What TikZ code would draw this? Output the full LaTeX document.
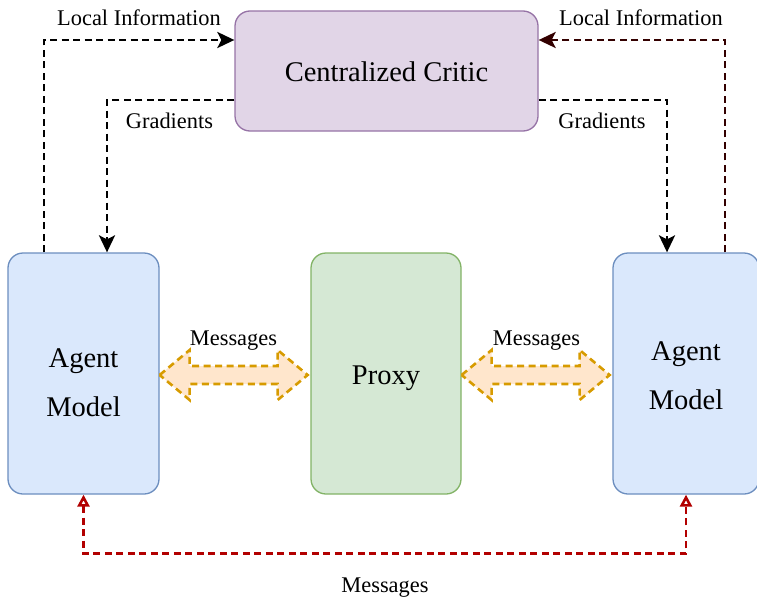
\documentclass[tikz,border=0pt]{standalone}
\usepackage{fontspec}
\setmainfont{Liberation Serif}
\usepackage{tikz}
\usetikzlibrary{calc, arrows.meta, positioning}

\definecolor{criticfill}{HTML}{E1D5E7}
\definecolor{criticline}{HTML}{9673A6}
\definecolor{agentfill}{HTML}{DAE8FC}
\definecolor{agentline}{HTML}{6C8EBF}
\definecolor{proxyfill}{HTML}{D5E8D4}
\definecolor{proxyline}{HTML}{82B366}
\definecolor{msgfill}{HTML}{FFE6CC}
\definecolor{msgline}{HTML}{D79B00}
\definecolor{msgred}{HTML}{B20000}
\definecolor{darkmaroon}{HTML}{330000}

\tikzset{
    box/.style = {draw, line width=1.3pt, rounded corners=15pt, inner sep=0pt},
    boxtext/.style = {inner sep=0pt, align=center, font=\fontsize{28.5}{49}\selectfont},
    lbl/.style = {inner sep=0pt, font=\fontsize{22.4}{26}\selectfont},
    dashline/.style = {line width=2.6pt, dash pattern=on 7pt off 4.5pt},
    flow/.style = {dashline, -{Stealth[length=17pt, width=16pt, inset=4pt]}},
    fatarrow/.style = {dashline, draw=msgline, fill=msgfill, line join=miter},
}

\begin{document}
\begin{tikzpicture}[x=1pt, y=-1pt]
        \useasboundingbox (0,0) rectangle (757,597);

        % boxes
        \node[box, draw=criticline, fill=criticfill, minimum width=303pt, minimum height=120pt,
            label={[boxtext, yshift=-1pt]center:Centralized Critic}]
            (critic) at (386.5,71) {};
        \node[box, draw=agentline, fill=agentfill, minimum width=151pt, minimum height=241pt,
            label={[boxtext, yshift=-9pt]center:Agent\\Model}]
            (agentL) at (83.5,373.5) {};
        \node[box, draw=proxyline, fill=proxyfill, minimum width=150pt, minimum height=241pt,
            label={[boxtext, yshift=-5pt]center:Proxy}]
            (proxy) at (386,373.5) {};
        \node[box, draw=agentline, fill=agentfill, minimum width=146pt, minimum height=241pt,
            label={[boxtext, yshift=-2pt]center:Agent\\Model}]
            (agentR) at (686,373.5) {};

        % messages through the proxy
        \coordinate (tipL) at ([yshift=-1.5pt]agentL.east);
        \coordinate (tipR) at ([yshift=-1.5pt]proxy.east);
        \foreach \t in {tipL, tipR}
            \draw[fatarrow] (\t) -- ++(30,-25) -- ++(0,16) -- ++(88,0) -- ++(0,-16)
                -- ++(30,25) -- ++(-30,25) -- ++(0,-16) -- ++(-88,0) -- ++(0,16) -- cycle;
        \node[lbl] (msgLtxt) at (233.5,341) {Messages};
        \node[lbl] (msgRtxt) at (536.5,341) {Messages};

        % critic links
        \draw[flow] ([xshift=-39.5pt]agentL.north) |- ([yshift=31pt]critic.west);
        \draw[flow] ([yshift=-29pt]critic.west) -| ([xshift=23.5pt]agentL.north);
        \draw[flow] ([yshift=-29pt]critic.east) -| ([xshift=-19pt]agentR.north);
        \draw[flow, darkmaroon] ([xshift=39pt]agentR.north) |- ([yshift=31pt]critic.east);
        \node[lbl] (infoL) at (139,18) {Local Information};
        \node[lbl] (infoR) at (641,18) {Local Information};
        \node[lbl] (gradL) at (169.5,121) {Gradients};
        \node[lbl] (gradR) at (602,121) {Gradients};

        % direct messages between the agents
        \draw[dashline, msgred,
            {Triangle[open, length=12pt, width=12pt]}-{Triangle[open, length=12pt, width=12pt]}]
            (agentL.south) -- ++(0,59) -| (agentR.south);
        \node[lbl] (msgB) at (385,588) {Messages};
    \end{tikzpicture}
\end{document}
